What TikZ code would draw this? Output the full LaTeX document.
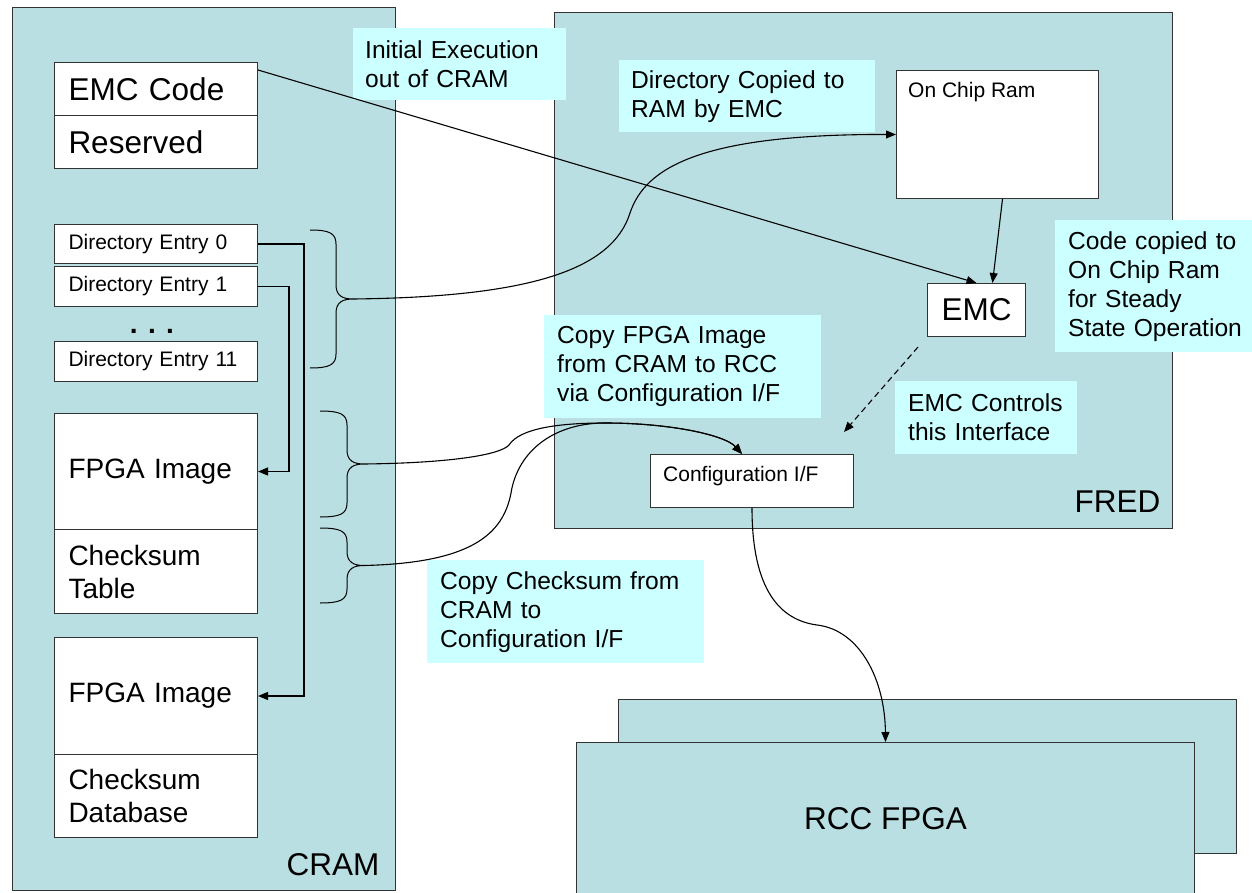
\documentclass[tikz,border=0pt]{standalone}
\usepackage{fontspec}
\setmainfont{Liberation Sans}
\usetikzlibrary{arrows.meta,calc}
\definecolor{boxfill}{RGB}{185,223,226}
\definecolor{labfill}{RGB}{204,255,255}
\newcommand{\fbig}{\fontsize{31.5}{36}\selectfont}
\newcommand{\fmed}{\fontsize{28}{33}\selectfont}
\newcommand{\flab}{\fontsize{24.6}{29}\selectfont}
\newcommand{\fsml}{\fontsize{21}{25}\selectfont}
\newcommand{\crbrace}[5]{% #1=L #2=S #3=T #4=B #5=tip name
  \pgfmathsetmacro\bM{(#3+#4)/2}
  \draw[brc] (#1,#3) .. controls ({#2-7},#3) and (#2,{#3+3}) .. (#2,{#3+14})
    -- (#2,{\bM-14}) .. controls (#2,{\bM-3}) and ({#2+7},\bM) .. ({#2+17},\bM) coordinate (#5)
    ({#2+17},\bM) .. controls ({#2+7},\bM) and (#2,{\bM+3}) .. (#2,{\bM+14})
    -- (#2,{#4-14}) .. controls (#2,{#4-3}) and ({#2-7},#4) .. (#1,#4);
}
\begin{document}
\begin{tikzpicture}[x=1pt,y=-1pt,
  container/.style={draw=black!80, line width=1pt, fill=boxfill, anchor=north west, inner sep=0pt},
  memblk/.style={draw=black!80, line width=1pt, fill=white, anchor=north west, align=left,
                 inner xsep=14pt, inner ysep=0pt, text width=175pt},
  whitebox/.style={draw=black!80, line width=1pt, fill=white, anchor=north west, inner sep=0pt},
  lab/.style={fill=labfill, anchor=north west, align=left, inner xsep=13pt, inner ysep=0pt, font=\flab},
  con/.style={line width=1.1pt, draw=black},
  arr/.style={con, -{Triangle[length=10pt,width=8pt]}},
  dasharr/.style={arr, dash pattern=on 6pt off 4pt},
  brc/.style={line width=1pt, draw=black}]
\clip (0,0) rectangle (1252,893);

% containers
\node[container, minimum width=383pt, minimum height=883pt] (cram) at (12,7) {};
\node[container, minimum width=618pt, minimum height=516pt] (fred) at (554,12) {};
\node[container, minimum width=618pt, minimum height=154pt] (rccback) at (618,699) {};
\node[container, minimum width=618pt, minimum height=152pt, font=\fbig] (rcc) at (576,742) {RCC FPGA};

\node[anchor=base east, font=\fbig] (cramlbl) at (383,875) {CRAM};
\node[anchor=base east, font=\fbig] (fredlbl) at (1164,512) {FRED};

% CRAM contents
\node[memblk, minimum height=53pt, font=\fbig] (emccode) at (54,62) {EMC Code};
\node[memblk, minimum height=53pt, font=\fbig] (reserved) at (54,115) {Reserved};
\node[memblk, minimum height=39pt, font=\fsml] (de0) at (54,224) {Directory Entry 0};
\node[memblk, minimum height=40pt, font=\fsml] (de1) at (54,266) {Directory Entry 1};
\node[anchor=base, font=\fmed\bfseries] (dots) at (152,333) {. . .};
\node[memblk, minimum height=40pt, font=\fsml] (de11) at (54,341) {Directory Entry 11};
\node[memblk, minimum height=116pt, font=\fmed] (fpga1) at (54,413) {FPGA Image};
\node[memblk, minimum height=84pt, font=\fmed] (chkt) at (54,529) {Checksum\\Table};
\node[memblk, minimum height=117pt, font=\fmed] (fpga2) at (54,637) {FPGA Image};
\node[memblk, minimum height=83pt, font=\fmed] (chkdb) at (54,754) {Checksum\\Database};

% FRED contents
\node[whitebox, minimum width=202pt, minimum height=128pt] (ocr) at (896,70) {};
\node[anchor=base west, font=\fsml, inner sep=0pt] (ocrtxt) at ($(ocr.north west)+(12,28)$) {On Chip Ram};
\node[whitebox, minimum width=98pt, minimum height=53pt, font=\fbig] (emc) at (927,283) {EMC};
\node[whitebox, minimum width=203pt, minimum height=53pt] (cfg) at (650,454) {};
\node[anchor=base west, font=\fsml, inner sep=0pt] (cfgtxt) at ($(cfg.north west)+(13,27)$) {Configuration I/F};

% labels
\node[lab, text width=189pt, minimum height=72pt, inner xsep=12pt] (initlab) at (353,28) {Initial Execution\\out of CRAM};
\node[lab, text width=232pt, minimum height=72pt, inner xsep=12pt] (dirlab) at (619,60) {Directory Copied to\\RAM by EMC};
\node[lab, text width=171pt, minimum height=132pt] (codelab) at (1055,220) {Code copied to\\On Chip Ram\\for Steady\\\mbox{State Operation}};
\node[lab, text width=156pt, minimum height=73pt] (ctllab) at (895,381) {EMC Controls\\this Interface};
\node[lab, text width=251pt, minimum height=103pt] (fpgalab) at (544,315) {Copy FPGA Image\\from CRAM to RCC\\via Configuration I/F};
\node[lab, text width=251pt, minimum height=103pt] (cklab) at (427,560) {Copy Checksum from\\CRAM to\\Configuration I/F};

% braces
\crbrace{310}{336}{230}{368}{b1}
\crbrace{320}{347}{411}{517}{b2}
\crbrace{320}{347}{528}{603}{b3}

% helper coordinates
\coordinate (exstart) at ($(emccode.north east)+(0,8)$);
\coordinate (cfgin) at ($(cfg.north)+(-10,0)$);
\coordinate (ocrout) at ($(ocr.south)+(5,0)$);
\coordinate (emcin) at ($(emc.north)+(16,0)$);
\coordinate (dashs) at ($(emc.south west)+(-9,10)$);
\coordinate (dashe) at ($(cfg.north east)+(-10,-22)$);

% connectors
\draw[arr] (de0.east) -- ++(46,0) |- (fpga2.east);
\draw[arr] (de1.east) -- ++(31,0) |- (fpga1.east);
\draw[arr] (exstart) -- (emc.north);
\draw[arr] (ocrout) -- (emcin);
\draw[dasharr] (dashs) -- (dashe);
\draw[arr] (b1) .. controls (530,297) and (612,270) .. (630,213)
   .. controls (645,168) and (700,134) .. (ocr.west);
\draw[arr] (b2) .. controls (450,463) and (500,455) .. (509,445)
   .. controls (520,428) and (560,423) .. (605,423)
   .. controls (670,423) and (725,435) .. (cfgin);
\draw[arr] (b3) .. controls (470,563) and (503,535) .. (511,493)
   .. controls (518,450) and (555,423) .. (605,423)
   .. controls (670,423) and (725,435) .. (cfgin);
\draw[arr] (cfg.south) .. controls (752,590) and (780,620) .. (817,625)
   .. controls (860,630) and (885,680) .. (rcc.north);
\end{tikzpicture}
\end{document}
